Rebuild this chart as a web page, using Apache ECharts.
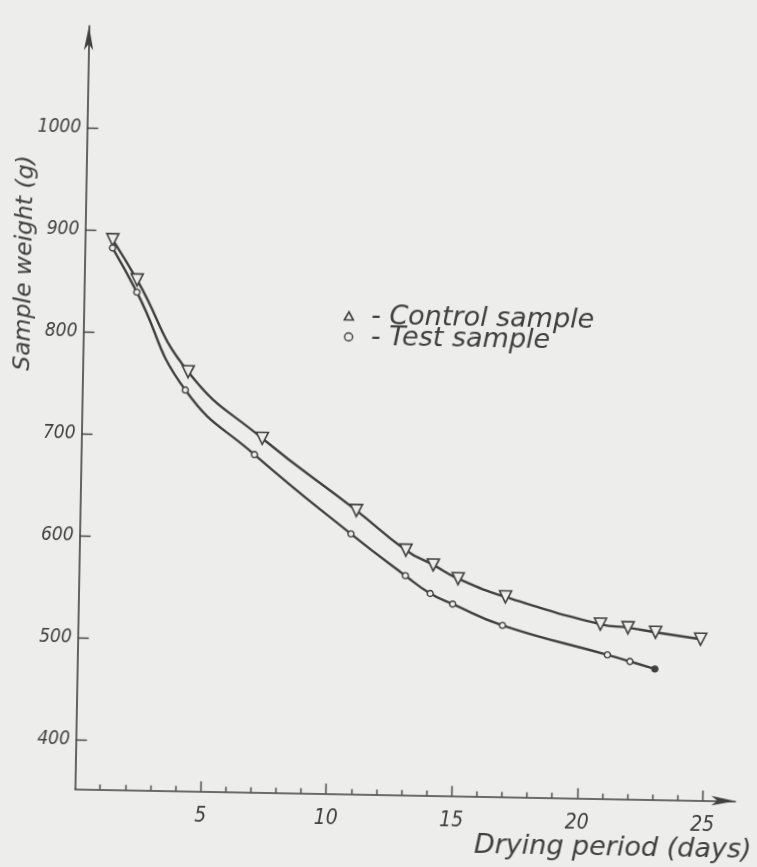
<!DOCTYPE html>
<html>
<head>
<meta charset="utf-8">
<title>Sample weight vs drying period</title>
<script src="https://cdn.jsdelivr.net/npm/echarts@6.0.0/dist/echarts.min.js"></script>
<style>
  html, body { margin: 0; padding: 0; width: 757px; height: 867px; overflow: hidden; background: #ededeb; }
  /* the scan is a little crooked, so the whole drawing is turned ~1 degree */
  #main {
    position: absolute; left: -20px; top: -20px; width: 797px; height: 907px;
    transform: rotate(1.05deg); transform-origin: 398.5px 453.5px;
  }
</style>
</head>
<body>
<div id="main"></div>
<script>
// drying period (days) and sample weight (g)
const controlDays = [1.1, 2.1, 4.2, 7.2, 11, 13, 14.1, 15.1, 17, 20.8, 21.9, 23, 24.8]
const controlWeight = [891, 852, 763, 699, 630, 592, 578, 565, 548, 523, 520, 516, 510]
const testDays = [1.1, 2.1, 4.1, 6.9, 10.8, 13, 14, 14.9, 16.9, 21.1, 22, 23]
const testWeight = [883, 840, 745, 683, 607, 567, 550, 540, 520, 493, 487, 480]

// tick labels
const dayLabels = [5, 10, 15, 20, 25]
const dayMinorTicks = [1, 2, 3, 4, 6, 7, 8, 9, 11, 12, 13, 14, 16, 17, 18, 19, 21, 22, 23, 24]
const weightLabels = [400, 500, 600, 700, 800, 900, 1000]

const ink = '#404040'
const paper = '#ededeb'
const hand = '"DejaVu Sans", sans-serif'
const handNarrow = '"DejaVu Sans Condensed", "DejaVu Sans", sans-serif'

function pairs (xs, ys) {
  return xs.map((x, i) => [x, ys[i]])
}

const chart = echarts.init(document.getElementById('main'), null, { renderer: 'canvas' })

const option = {
  backgroundColor: paper,
  animation: false,
  grid: { left: 101.6, right: 35, top: 51.4, bottom: 92.5, containLabel: false },
  legend: {
    orient: 'vertical',
    left: 356.5,
    top: 318,
    itemWidth: 9,
    itemHeight: 8,
    itemGap: -6, // rows sit close together in the drawing
    formatter: ' - {name}',
    textStyle: { fontFamily: hand, fontStyle: 'italic', fontSize: 27, lineHeight: 20, color: ink, padding: [0, 0, 0, 4] },
    data: [
      { name: 'Control sample', icon: 'triangle', itemStyle: { color: paper, borderColor: ink, borderWidth: 1.6 } },
      { name: 'Test sample', icon: 'circle', itemStyle: { color: paper, borderColor: ink, borderWidth: 1.4 } }
    ]
  },
  xAxis: [
    {
      // line with arrow + small day ticks
      type: 'value',
      min: 0,
      max: 26.3,
      position: 'bottom',
      axisLine: { show: true, onZero: false, symbol: ['none', 'arrow'], symbolSize: [7, 24], lineStyle: { color: ink, width: 1.6 } },
      axisTick: { show: true, inside: true, length: 5, customValues: dayMinorTicks, lineStyle: { color: ink, width: 1.4 } },
      axisLabel: { show: false },
      splitLine: { show: false }
    },
    {
      // long ticks + labels every 5 days
      type: 'value',
      min: 0,
      max: 26.3,
      position: 'bottom',
      axisLine: { show: false, onZero: false },
      axisTick: { show: true, inside: true, length: 10, customValues: dayLabels, lineStyle: { color: ink, width: 1.4 } },
      axisLabel: { show: true, customValues: dayLabels, margin: 15, fontFamily: handNarrow, fontStyle: 'italic', fontSize: 21, color: ink },
      splitLine: { show: false }
    }
  ],
  yAxis: {
    type: 'value',
    min: 352,
    max: 1100,
    axisLine: { show: true, onZero: false, symbol: ['none', 'arrow'], symbolSize: [7, 24], lineStyle: { color: ink, width: 1.6 } },
    axisTick: { show: true, inside: true, length: 11, customValues: weightLabels, lineStyle: { color: ink, width: 1.4 } },
    axisLabel: {
      show: true,
      customValues: weightLabels,
      margin: 6,
      formatter: v => String(v),
      fontFamily: handNarrow,
      fontStyle: 'italic',
      fontSize: 19,
      color: ink
    },
    splitLine: { show: false }
  },
  graphic: [
    {
      type: 'text',
      x: 41.9,
      y: 289.5,
      rotation: Math.PI / 2,
      style: { text: 'Sample weight (g)', fontFamily: hand, fontStyle: 'italic', fontSize: 23.5, fill: ink, align: 'center', verticalAlign: 'middle' }
    },
    {
      type: 'text',
      x: 779,
      y: 864,
      style: { text: 'Drying period (days)', fontFamily: hand, fontStyle: 'italic', fontSize: 27, fill: ink, align: 'right', verticalAlign: 'middle' }
    }
  ],
  series: [
    {
      name: 'Control sample',
      type: 'line',
      xAxisIndex: 0,
      data: pairs(controlDays, controlWeight),
      smooth: 0.5,
      symbol: 'triangle',
      symbolRotate: 180,
      symbolSize: 12,
      lineStyle: { color: ink, width: 2.4 },
      itemStyle: { color: paper, borderColor: ink, borderWidth: 1.6 },
      z: 3
    },
    {
      name: 'Test sample',
      type: 'line',
      xAxisIndex: 0,
      data: pairs(testDays, testWeight).map((p, i, arr) => {
        // last point is drawn as a filled dot
        if (i === arr.length - 1) return { value: p, itemStyle: { color: ink } }
        return p
      }),
      smooth: 0.5,
      symbol: 'circle',
      symbolSize: 6,
      lineStyle: { color: ink, width: 2.4 },
      itemStyle: { color: paper, borderColor: ink, borderWidth: 1.4 },
      z: 3
    }
  ]
}

chart.setOption(option, true)
</script>
</body>
</html>
